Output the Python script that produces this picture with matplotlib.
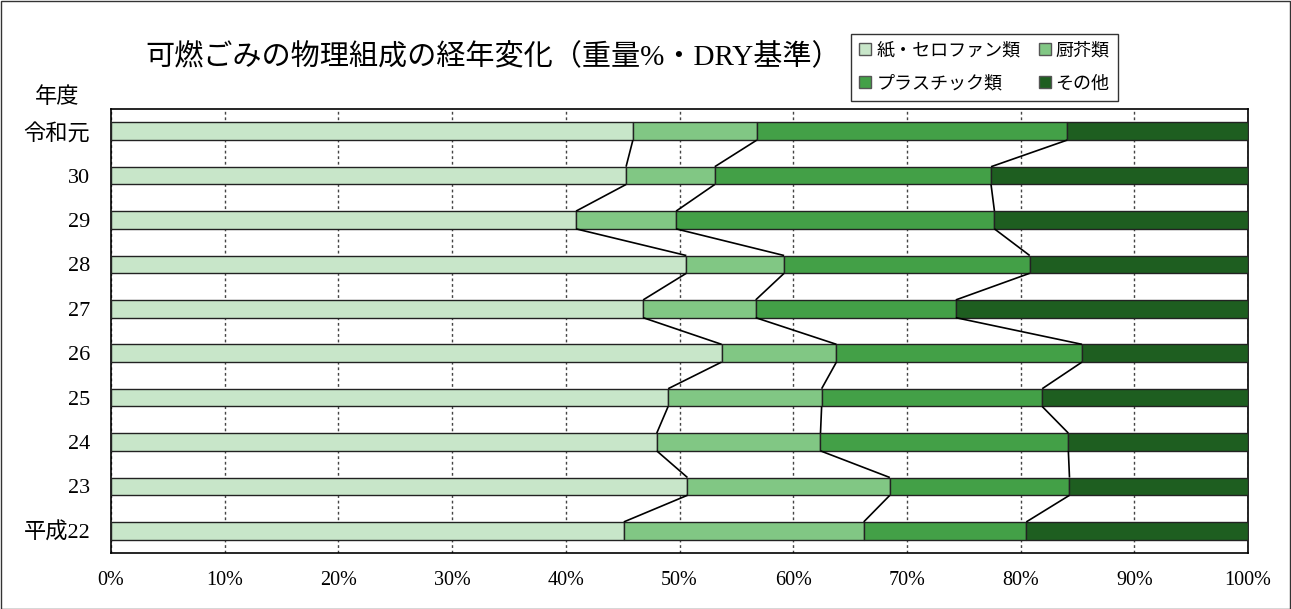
import matplotlib
matplotlib.use("Agg")
import matplotlib.pyplot as plt
from matplotlib.lines import Line2D
import numpy as np

FAM = ['Liberation Serif', 'Noto Sans CJK JP', 'DejaVu Sans']
plt.rcParams['font.family'] = FAM

years = ['令和元', '30', '29', '28', '27', '26', '25', '24', '23', '平成22']
series_names = ['紙・セロファン類', '厨芥類', 'プラスチック類', 'その他']
paper   = [45.9, 45.3, 40.9, 50.6, 46.8, 53.7, 49.0, 48.0, 50.7, 45.1]
kitchen = [10.9,  7.8,  8.8,  8.6,  9.9, 10.1, 13.5, 14.4, 17.8, 21.1]
plastic = [27.3, 24.3, 28.0, 21.6, 17.6, 21.6, 19.4, 21.8, 15.8, 14.3]
other   = [15.9, 22.6, 22.3, 19.2, 25.7, 14.6, 18.1, 15.8, 15.7, 19.5]
colors = ['#C8E6C9', '#81C784', '#43A047', '#1E5E20']
xticks = [0, 10, 20, 30, 40, 50, 60, 70, 80, 90, 100]

W, H = 1291, 609
fig = plt.figure(figsize=(W / 100, H / 100), dpi=100)
ax = fig.add_axes([111 / W, 1 - 553 / H, (1248 - 111) / W, (553 - 109) / H])

data = [paper, kitchen, plastic, other]
y = np.arange(len(years))
h = 0.4
left = np.zeros(len(years))
cums = []
for vals, c, name in zip(data, colors, series_names):
    vals = np.array(vals)
    ax.barh(y, vals, left=left, height=h, color=c, edgecolor='#222222',
            linewidth=1.0, label=name, zorder=3)
    left = left + vals
    cums.append(left.copy())

# series lines
for cum in cums[:3]:
    for i in range(len(years) - 1):
        ax.plot([cum[i], cum[i + 1]], [y[i] + h / 2, y[i + 1] - h / 2],
                color='black', lw=1.2, zorder=4, solid_capstyle='butt')

ax.set_xlim(0, 100)
ax.set_ylim(len(years) - 0.5, -0.5)
ax.set_xticks(xticks)
ax.set_xticklabels([f'{v}%' for v in xticks], fontsize=14.5)
ax.set_yticks(y)
ax.set_yticklabels(years, fontsize=16)
ax.tick_params(axis='both', length=0)
ax.tick_params(axis='x', pad=13)
ax.tick_params(axis='y', pad=15)
ax.grid(axis='x', linestyle=(0, (2, 2)), color='#444444', lw=1.0, zorder=0)
ax.grid(axis='y', visible=False)
ax.set_axisbelow(True)
for s in ax.spines.values():
    s.set_color('black')
    s.set_linewidth(1.2)

fig.text(493 / W, 1 - 57 / H, '可燃ごみの物理組成の経年変化（重量%・DRY基準）',
         ha='center', va='center', fontsize=21, family=FAM)
fig.text(57 / W, 1 - 98 / H, '年度', ha='center', va='center', fontsize=16, family=FAM)

# legend: row-major order like the reference (column-major filling in matplotlib)
order = [0, 2, 1, 3]
handles = [Line2D([], [], marker='s', linestyle='none', markersize=9,
                  markerfacecolor=colors[k], markeredgecolor='#555555',
                  markeredgewidth=1.0) for k in order]
labels = [series_names[k] for k in order]
leg = fig.legend(handles, labels, loc='upper left',
                 bbox_to_anchor=(851 / W, 1 - 34 / H), ncol=2,
                 frameon=True, fancybox=False, handlelength=0.7, handletextpad=0.25,
                 columnspacing=1.0, labelspacing=0.9, borderpad=0.45,
                 borderaxespad=0, prop={'family': FAM, 'size': 13})
leg.get_frame().set_edgecolor('black')
leg.get_frame().set_linewidth(1.0)

# figure border
fig.patches.append(plt.Rectangle((0.5 / W, 0.5 / H), 1 - 1.5 / W, 1 - 1.5 / H,
                                 transform=fig.transFigure, fill=False,
                                 edgecolor='#333333', lw=1.0))

fig.savefig('out.png', dpi=100)
